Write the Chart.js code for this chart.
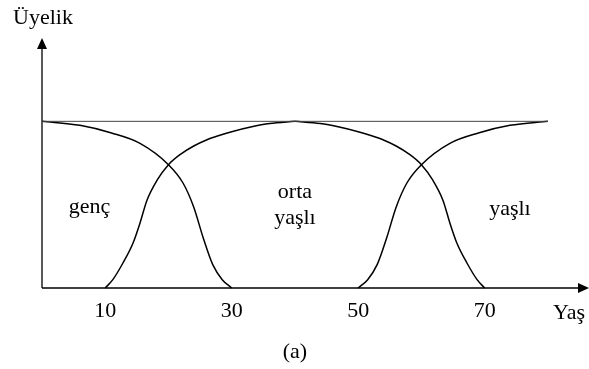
<!DOCTYPE html>
<html>
<head>
<meta charset="utf-8">
<script src="https://cdn.jsdelivr.net/npm/chart.js@4/dist/chart.umd.min.js"></script>
<style>
  body { margin: 0; background: #fff; }
  #wrap { width: 589px; height: 369px; }
</style>
</head>
<body>
<div id="wrap"><canvas id="chartCanvas" width="589" height="369"></canvas></div>
<script>
// Age ticks on the x axis
const ageTicks = [10, 30, 50, 70];

// Membership curves (age, membership)
const gencAge = [0, 6, 11, 15.5, 20, 22.3, 24, 25.5, 27, 28.5, 30];
const gencVal = [1, 0.976, 0.93, 0.868, 0.74, 0.63, 0.485, 0.3, 0.14, 0.05, 0];

const ortaAge = [10, 11.2, 12.8, 14.4, 15.5, 16.6, 18.2, 20, 22, 24, 26, 28, 30, 33, 36, 40,
                 44, 47, 50, 52, 54, 56, 58, 60, 61.8, 63.4, 64.5, 65.6, 67.2, 68.8, 70];
const ortaVal = [0, 0.05, 0.15, 0.27, 0.39, 0.527, 0.647, 0.74, 0.805, 0.852, 0.888, 0.915, 0.938, 0.966, 0.987, 1,
                 0.987, 0.966, 0.938, 0.915, 0.888, 0.852, 0.805, 0.74, 0.647, 0.527, 0.39, 0.27, 0.15, 0.05, 0];

const yasliAge = [50, 51.5, 53, 54.5, 56, 57.7, 60, 64.5, 69, 74, 80];
const yasliVal = [0, 0.05, 0.14, 0.3, 0.485, 0.63, 0.74, 0.868, 0.93, 0.976, 1];

// Full membership reference line
const topAge = [0, 80];
const topVal = [1, 1];

// Region labels: text, age, membership
const regionText = ['genç', 'orta', 'yaşlı', 'yaşlı'];
const regionAge = [7.5, 40, 40, 74];
const regionVal = [0.45, 0.54, 0.385, 0.44];

function toPoints(xs, ys) {
    return xs.map((x, i) => ({ x: x, y: ys[i] }));
}

function curve(points, color, width) {
    return {
        data: points,
        showLine: true,
        borderColor: color,
        borderWidth: width,
        pointRadius: 0,
        cubicInterpolationMode: 'monotone',
        clip: false
    };
}

// orta is drawn as two halves so the peak keeps its small point
const ortaPoints = toPoints(ortaAge, ortaVal);
const peak = ortaAge.indexOf(40);

const font = '22px "Liberation Serif", "Times New Roman", serif';

// Axes with arrow heads and all texts
const decorations = {
    id: 'decorations',
    beforeDatasetsDraw(chart) {
        const c = chart.ctx;
        const xs = chart.scales.x, ys = chart.scales.y;
        const x0 = xs.getPixelForValue(0), y0 = ys.getPixelForValue(0);
        const right = chart.width, top = chart.chartArea.top;
        c.save();
        c.strokeStyle = '#000';
        c.fillStyle = '#000';
        c.lineWidth = 1.3;
        c.beginPath();
        c.moveTo(x0, y0);
        c.lineTo(right - 10, y0);
        c.moveTo(x0, y0);
        c.lineTo(x0, top + 10);
        c.stroke();
        // arrow heads
        c.beginPath();
        c.moveTo(right, y0);
        c.lineTo(right - 11, y0 - 5);
        c.lineTo(right - 11, y0 + 5);
        c.closePath();
        c.fill();
        c.beginPath();
        c.moveTo(x0, top);
        c.lineTo(x0 - 5, top + 11);
        c.lineTo(x0 + 5, top + 11);
        c.closePath();
        c.fill();
        c.restore();
    },
    afterDraw(chart) {
        const c = chart.ctx;
        const xs = chart.scales.x, ys = chart.scales.y;
        const x0 = xs.getPixelForValue(0), y0 = ys.getPixelForValue(0);
        const top = chart.chartArea.top;
        c.save();
        c.fillStyle = '#000';
        c.font = font;
        c.textBaseline = 'alphabetic';
        c.textAlign = 'center';
        ageTicks.forEach(t => {
            c.fillText(String(t), xs.getPixelForValue(t), y0 + 29);
        });
        regionText.forEach((t, i) => {
            c.fillText(t, xs.getPixelForValue(regionAge[i]), ys.getPixelForValue(regionVal[i]));
        });
        c.fillText('(a)', xs.getPixelForValue(40), y0 + 70);
        c.textAlign = 'left';
        c.fillText('Yaş', 553, y0 + 31);
        c.fillText('Üyelik', x0 - 29, top - 14);
        c.restore();
    }
};

const ctx = document.getElementById('chartCanvas').getContext('2d');

new Chart(ctx, {
    type: 'scatter',
    data: {
        datasets: [
            curve(toPoints(topAge, topVal), '#444', 1),
            curve(toPoints(gencAge, gencVal), '#000', 1.5),
            curve(ortaPoints.slice(0, peak + 1), '#000', 1.5),
            curve(ortaPoints.slice(peak), '#000', 1.5),
            curve(toPoints(yasliAge, yasliVal), '#000', 1.5)
        ]
    },
    options: {
        responsive: false,
        animation: false,
        layout: { padding: { left: 42, right: 0, top: 38, bottom: 81 } },
        scales: {
            x: { type: 'linear', min: 0, max: 86.5, display: false },
            y: { type: 'linear', min: 0, max: 1.5, display: false }
        },
        plugins: {
            legend: { display: false },
            tooltip: { enabled: false }
        }
    },
    plugins: [decorations]
});
</script>
</body>
</html>
